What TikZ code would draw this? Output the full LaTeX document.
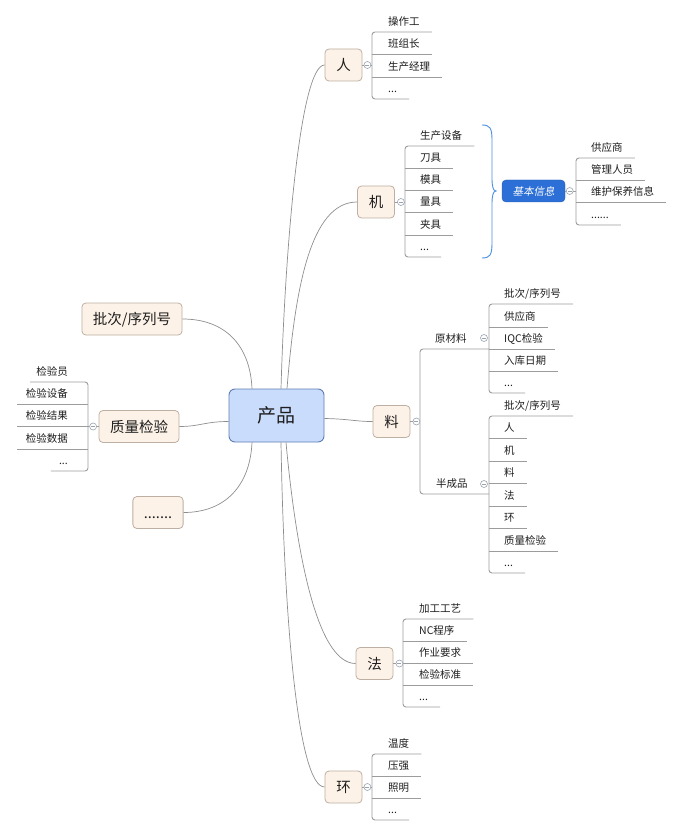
\documentclass[tikz,border=0pt]{standalone}
\usepackage{fontspec}
\setmainfont{Noto Sans CJK SC}
\newfontfamily\slantfont[FakeSlant=0.2]{Noto Sans CJK SC}
\definecolor{ink}{HTML}{1E1E1E}
\definecolor{topicfill}{HTML}{FDF2E8}
\definecolor{topicline}{HTML}{BDAFA2}
\definecolor{hubfill}{HTML}{C9DCFC}
\definecolor{hubline}{HTML}{5F7DB3}
\definecolor{infofill}{HTML}{2C6FD6}
\definecolor{linkgray}{HTML}{8E8E8E}
\definecolor{treegray}{HTML}{9C9C9C}
\definecolor{foldgray}{HTML}{9AA3B0}
\definecolor{bracecol}{HTML}{4A8FE2}
\tikzset{
  hub/.style={draw=hubline, fill=hubfill, rounded corners=6pt, line width=0.9pt, minimum width=95pt, minimum height=53pt, font=\fontsize{19}{21}\selectfont, text=ink},
  topic/.style={draw=topicline, fill=topicfill, rounded corners=4pt, line width=0.8pt, minimum width=37pt, minimum height=32pt, inner xsep=11pt, text height=12pt, text depth=1pt, font=\fontsize{14.5}{16}\selectfont, text=ink},
  info/.style={draw=infofill!85!black, fill=infofill, rounded corners=4pt, minimum width=63pt, minimum height=22pt, text=white, font=\slantfont\fontsize{10.5}{12}\selectfont},
  leaf/.style={inner sep=0pt, text height=8pt, text depth=6.5pt, anchor=south west, font=\fontsize{10.5}{12}\selectfont, text=ink},
  linkline/.style={draw=linkgray, line width=0.7pt},
  treeline/.style={draw=treegray, line width=0.9pt},
  foldmark/.style={circle, draw=foldgray, fill=white, line width=0.6pt, minimum size=7pt, inner sep=0pt,
    path picture={\draw[foldgray, line width=0.6pt] ([xshift=-2pt]path picture bounding box.center) -- ([xshift=2pt]path picture bounding box.center);}}
}
\begin{document}
\begin{tikzpicture}[x=1pt,y=-1pt]
\useasboundingbox (0,0) rectangle (673,826);
% centre and main topics
\node[hub] (prod) at (276.5,415.5) {产品};
\node[topic] (ren) at (343.5,65) {人};
\node[topic] (ji) at (376,202) {机};
\node[topic] (liao) at (391.5,421.5) {料};
\node[topic] (fa) at (374.5,663.5) {法};
\node[topic] (huan) at (343.5,787) {环};
\node[topic] (pici) at (132,319) {批次/序列号};
\node[topic] (zhiliang) at (139,426.5) {质量检验};
\node[topic] (more) at (158,512.5) {.......};
\draw[linkline] ([xshift=4.5pt]prod.north) .. controls (285,250) and (300,65) .. (ren.west);
\draw[linkline] ([xshift=10.5pt]prod.north) .. controls (295,290) and (310,202) .. (ji.west);
\draw[linkline] ([yshift=-3pt]prod.east) .. controls (350,419) and (355,421.5) .. (liao.west);
\draw[linkline] ([xshift=9.5pt]prod.south) .. controls (295,540) and (315,663.5) .. (fa.west);
\draw[linkline] ([xshift=4.5pt]prod.south) .. controls (284,620) and (298,787) .. (huan.west);
\draw[linkline] ([xshift=-24.5pt]prod.north) .. controls (250,345) and (225,319) .. (pici.east);
\draw[linkline] ([yshift=-6pt]prod.west) .. controls (205,421.5) and (200,426.5) .. (zhiliang.east);
\draw[linkline] ([xshift=-24.5pt]prod.south) .. controls (250,486) and (225,512.5) .. (more.east);
% ren
\coordinate (renbar) at (372,65);
\node[leaf] (r1) at (388,32) {操作工}; \node[leaf] (r2) at (388,54) {班组长};
\node[leaf] (r3) at (388,77) {生产经理}; \node[leaf] (r4) at (388,99) {...};
\draw[treeline] (ren.east) -- (renbar);
\draw[treeline, rounded corners=3pt] ([xshift=12pt]r1.south east) -- (r1.south -| renbar) -- (r4.south -| renbar) -- ([xshift=12pt]r4.south east);
\draw[treeline] (r2.south -| renbar) -- ([xshift=12pt]r2.south east) (r3.south -| renbar) -- ([xshift=12pt]r3.south east);
\node[foldmark] (renfold) at ([xshift=5pt]ren.east) {};
% ji
\coordinate (jibar) at (405,202);
\node[leaf] (j1) at (420,146) {生产设备}; \node[leaf] (j2) at (420,168) {刀具};
\node[leaf] (j3) at (420,190) {模具}; \node[leaf] (j4) at (420,212) {量具};
\node[leaf] (j5) at (420,235) {夹具}; \node[leaf] (j6) at (420,257) {...};
\draw[treeline] (ji.east) -- (jibar);
\draw[treeline, rounded corners=3pt] ([xshift=12pt]j1.south east) -- (j1.south -| jibar) -- (j6.south -| jibar) -- ([xshift=12pt]j6.south east);
\draw[treeline] (j2.south -| jibar) -- ([xshift=12pt]j2.south east) (j3.south -| jibar) -- ([xshift=12pt]j3.south east)
  (j4.south -| jibar) -- ([xshift=12pt]j4.south east) (j5.south -| jibar) -- ([xshift=12pt]j5.south east);
\node[foldmark] (jifold) at ([xshift=6pt]ji.east) {};
% brace and summary
\draw[bracecol, line width=0.9pt] (482,125) .. controls (490,125) and (492,128) .. (492,140) -- (492,178)
  .. controls (492,186) and (493,191) .. (496,191) .. controls (493,191) and (492,196) .. (492,204)
  -- (492,243) .. controls (492,255) and (490,258) .. (482,258);
\node[info] (jiben) at (533.5,191) {基本信息};
\coordinate (jibenbar) at (576,191);
\node[leaf] (g1) at (591,158) {供应商}; \node[leaf] (g2) at (591,180) {管理人员};
\node[leaf] (g3) at (591,202) {维护保养信息}; \node[leaf] (g4) at (591,225) {......};
\draw[treeline] (jiben.east) -- (jibenbar);
\draw[treeline, rounded corners=3pt] ([xshift=12pt]g1.south east) -- (g1.south -| jibenbar) -- (g4.south -| jibenbar) -- ([xshift=12pt]g4.south east);
\draw[treeline] (g2.south -| jibenbar) -- ([xshift=12pt]g2.south east) (g3.south -| jibenbar) -- ([xshift=12pt]g3.south east);
\node[foldmark] (jibenfold) at ([xshift=4.5pt]jiben.east) {};
% liao
\coordinate (liaobar) at (420,421.5);
\coordinate (yuanbar) at (489,338); \coordinate (banbar) at (489,484);
\node[leaf] (yuan) at (435,349) {原材料}; \node[leaf] (ban) at (436,494) {半成品};
\draw[treeline] (liao.east) -- (liaobar);
\draw[treeline, rounded corners=3pt] (yuan.south -| yuanbar) -- (yuan.south -| liaobar) -- (ban.south -| liaobar) -- (ban.south -| banbar);
\node[foldmark] (liaofold) at ([xshift=6pt]liao.east) {};
\node[leaf] (y1) at (504,304) {批次/序列号}; \node[leaf] (y2) at (504,327) {供应商};
\node[leaf] (y3) at (504,349) {IQC检验}; \node[leaf] (y4) at (504,371) {入库日期};
\node[leaf] (y5) at (504,393) {...};
\draw[treeline, rounded corners=3pt] ([xshift=12pt]y1.south east) -- (y1.south -| yuanbar) -- (y5.south -| yuanbar) -- ([xshift=12pt]y5.south east);
\draw[treeline] (y2.south -| yuanbar) -- ([xshift=12pt]y2.south east) (y3.south -| yuanbar) -- ([xshift=12pt]y3.south east)
  (y4.south -| yuanbar) -- ([xshift=12pt]y4.south east);
\node[foldmark] (yuanfold) at ([xshift=-5pt]yuanbar) {};
\node[leaf] (b1) at (504,416) {批次/序列号}; \node[leaf] (b2) at (504,438) {人};
\node[leaf] (b3) at (504,461) {机}; \node[leaf] (b4) at (504,483) {料};
\node[leaf] (b5) at (504,506) {法}; \node[leaf] (b6) at (504,528) {环};
\node[leaf] (b7) at (504,551) {质量检验}; \node[leaf] (b8) at (504,573) {...};
\draw[treeline, rounded corners=3pt] ([xshift=12pt]b1.south east) -- (b1.south -| banbar) -- (b8.south -| banbar) -- ([xshift=12pt]b8.south east);
\draw[treeline] (b2.south -| banbar) -- ([xshift=12pt]b2.south east) (b3.south -| banbar) -- ([xshift=12pt]b3.south east)
  (b4.south -| banbar) -- ([xshift=12pt]b4.south east) (b5.south -| banbar) -- ([xshift=12pt]b5.south east)
  (b6.south -| banbar) -- ([xshift=12pt]b6.south east) (b7.south -| banbar) -- ([xshift=12pt]b7.south east);
\node[foldmark] (banfold) at ([xshift=-5pt]banbar) {};
% fa
\coordinate (fabar) at (403,663.5);
\node[leaf] (f1) at (419,619) {加工工艺}; \node[leaf] (f2) at (419,641) {NC程序};
\node[leaf] (f3) at (419,663) {作业要求}; \node[leaf] (f4) at (419,685) {检验标准};
\node[leaf] (f5) at (419,707) {...};
\draw[treeline] (fa.east) -- (fabar);
\draw[treeline, rounded corners=3pt] ([xshift=12pt]f1.south east) -- (f1.south -| fabar) -- (f5.south -| fabar) -- ([xshift=12pt]f5.south east);
\draw[treeline] (f2.south -| fabar) -- ([xshift=12pt]f2.south east) (f3.south -| fabar) -- ([xshift=12pt]f3.south east)
  (f4.south -| fabar) -- ([xshift=12pt]f4.south east);
\node[foldmark] (fafold) at ([xshift=6pt]fa.east) {};
% huan
\coordinate (huanbar) at (372,787);
\node[leaf] (h1) at (388,754) {温度}; \node[leaf] (h2) at (388,776) {压强};
\node[leaf] (h3) at (388,798) {照明}; \node[leaf] (h4) at (388,820) {...};
\draw[treeline] (huan.east) -- (huanbar);
\draw[treeline, rounded corners=3pt] ([xshift=12pt]h1.south east) -- (h1.south -| huanbar) -- (h4.south -| huanbar) -- ([xshift=12pt]h4.south east);
\draw[treeline] (h2.south -| huanbar) -- ([xshift=12pt]h2.south east) (h3.south -| huanbar) -- ([xshift=12pt]h3.south east);
\node[foldmark] (huanfold) at ([xshift=5pt]huan.east) {};
% zhiliang (left side)
\coordinate (zlbar) at (88,426.5);
\node[leaf, anchor=south east] (z1) at (68,382) {检验员}; \node[leaf, anchor=south east] (z2) at (68,404) {检验设备};
\node[leaf, anchor=south east] (z3) at (68,426) {检验结果}; \node[leaf, anchor=south east] (z4) at (68,449) {检验数据};
\node[leaf, anchor=south east] (z5) at (68,471) {...};
\draw[treeline] (zhiliang.west) -- (zlbar);
\draw[treeline, rounded corners=3pt] ([xshift=-6pt]z1.south west) -- (z1.south -| zlbar) -- (z5.south -| zlbar) -- ([xshift=-8pt]z5.south west);
\draw[treeline] (z2.south -| zlbar) -- ([xshift=-9pt]z2.south west) (z3.south -| zlbar) -- ([xshift=-9pt]z3.south west)
  (z4.south -| zlbar) -- ([xshift=-9pt]z4.south west);
\node[foldmark] (zlfold) at ([xshift=-5.5pt]zhiliang.west) {};
\end{tikzpicture}
\end{document}
